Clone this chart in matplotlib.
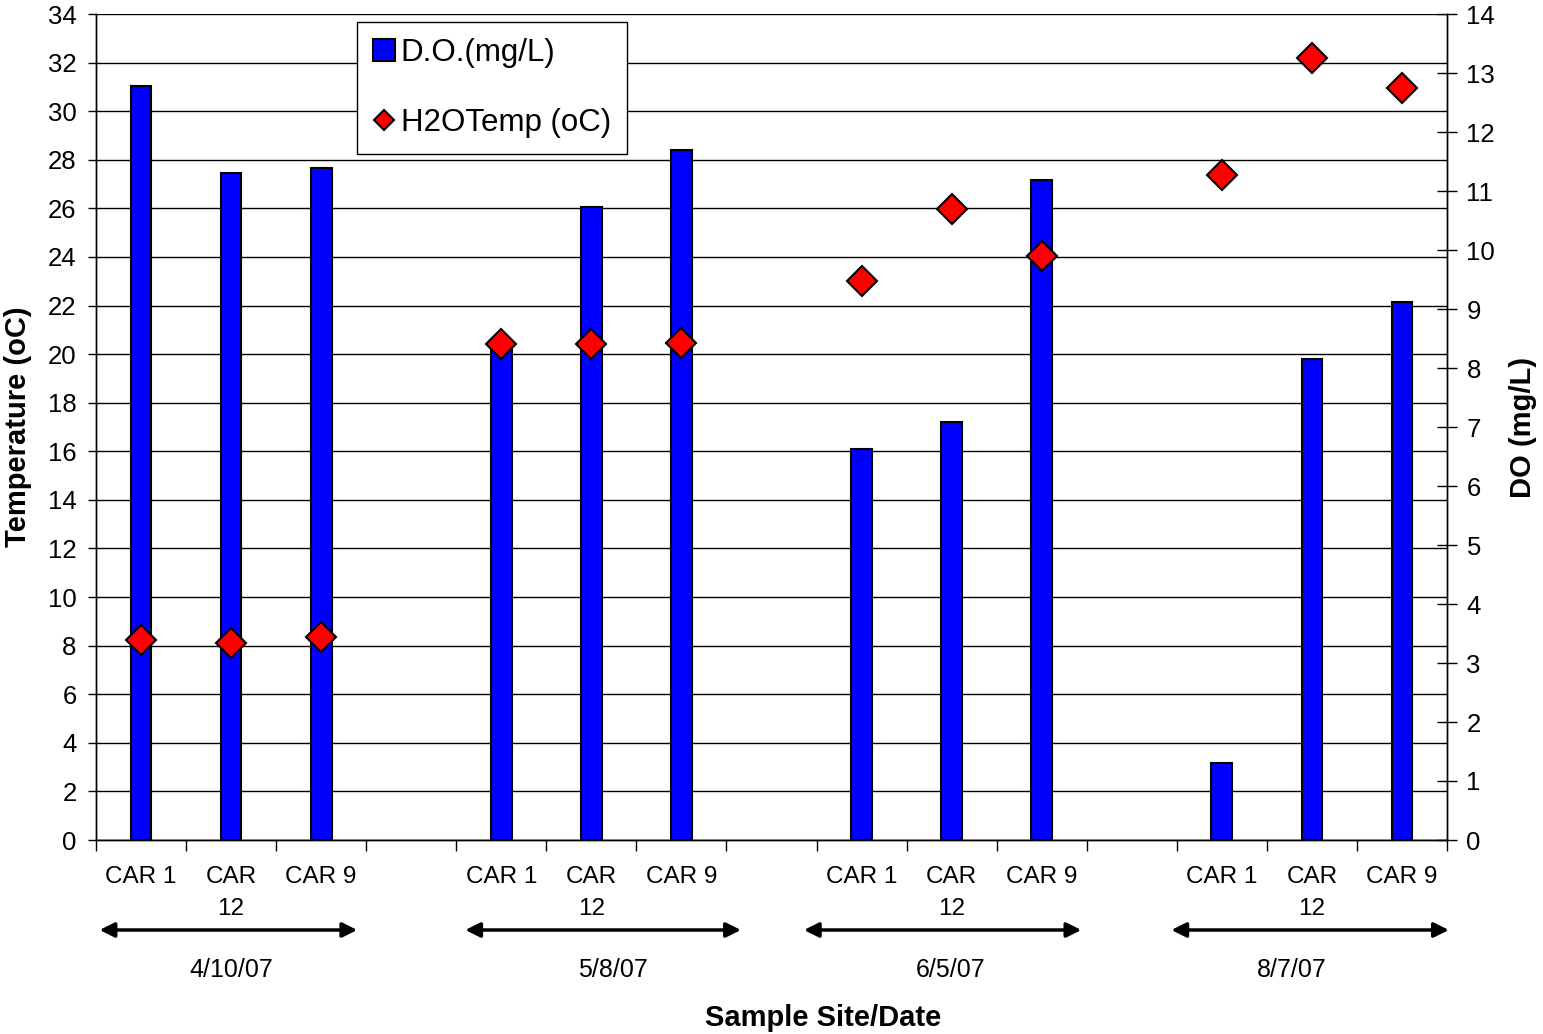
import matplotlib
matplotlib.use('Agg')
import matplotlib.pyplot as plt
import numpy as np
from matplotlib.lines import Line2D
from matplotlib.patches import Patch
import matplotlib.transforms as mtransforms

plt.rcParams['font.family'] = ['Liberation Sans', 'DejaVu Sans']

# ---------------- data ----------------
categories = ['CAR 1', 'CAR\n12', 'CAR 9', '',
              'CAR 1', 'CAR\n12', 'CAR 9', '',
              'CAR 1', 'CAR\n12', 'CAR 9', '',
              'CAR 1', 'CAR\n12', 'CAR 9']
do_values = [12.78, 11.31, 11.39, np.nan,
             8.45, 10.73, 11.70, np.nan,
             6.62, 7.09, 11.19, np.nan,
             1.31, 8.15, 9.12]
temp_values = [8.23, 8.10, 8.34, np.nan,
               20.41, 20.41, 20.47, np.nan,
               23.03, 25.96, 24.04, np.nan,
               27.38, 32.20, 30.94]
dates = ['4/10/07', '5/8/07', '6/5/07', '8/7/07']
temp_ticks = list(range(0, 35, 2))
do_ticks = list(range(0, 15, 1))

# ---------------- layout ----------------
arrow_spans = [(0.04, 2.90), (4.10, 7.16), (7.86, 10.94), (11.94, 15.02)]
date_pos = [1.5, 5.74, 9.49, 13.28]

W, H = 1543, 1034
fig = plt.figure(figsize=(W / 100, H / 100), dpi=100)
ax = fig.add_axes([96 / W, 1 - 840 / H, (1447 - 96) / W, (840 - 14) / H])
ax2 = ax.twinx()

x = np.arange(len(categories)) + 0.5

# bars (DO, right axis)
ax2.bar(x, do_values, width=0.23, color='#0000FF', edgecolor='black',
        linewidth=1.5, zorder=2)
# diamonds (temperature, left axis) drawn on top
ax2.plot(x, temp_values, linestyle='none', marker='D', markersize=15,
         markerfacecolor='#FF0000', markeredgecolor='black',
         markeredgewidth=1.5, transform=ax.transData, zorder=3, clip_on=False)

ax.set_xlim(0, len(categories))
ax.set_ylim(0, 34)
ax2.set_ylim(0, 14)

ax.set_yticks(temp_ticks)
ax2.set_yticks(do_ticks)
ax.yaxis.grid(True, color='black', linewidth=1)
ax.set_axisbelow(True)

ax.set_xticks(np.arange(0, len(categories) + 1))
ax.set_xticklabels([])
ax.set_xticks(x, minor=True)
ax.set_xticklabels(categories, minor=True)
ax.tick_params(axis='x', which='major', direction='out', length=8, width=1)
ax.tick_params(axis='x', which='minor', length=0, pad=19, labelsize=17.5)
for lab in ax.get_xticklabels(minor=True):
    lab.set_linespacing(1.55)
    lab.set_verticalalignment('top')

ax.tick_params(axis='y', direction='out', length=6, width=1, labelsize=18.5, pad=8)
ax2.tick_params(axis='y', direction='inout', length=14, width=1, labelsize=18.5, pad=7)

for a in (ax, ax2):
    for s in a.spines.values():
        s.set_color('black')
        s.set_linewidth(1)
ax.spines['top'].set_visible(False)
ax2.spines['top'].set_visible(False)

# arrows and dates below the axis
trans = mtransforms.blended_transform_factory(ax.transData, ax.transAxes)
y_arrow = (840 - 930) / 826
y_date = (840 - 970) / 826
for (x0, x1), d, xd in zip(arrow_spans, dates, date_pos):
    ax.annotate('', xy=(x1, y_arrow), xytext=(x0, y_arrow),
                xycoords=trans, textcoords=trans, annotation_clip=False,
                arrowprops=dict(arrowstyle='<|-|>', color='black', lw=2.5,
                                mutation_scale=22, shrinkA=0, shrinkB=0))
    ax.text(xd, y_date, d, transform=trans, ha='center', va='center',
            fontsize=18)

# axis labels
fig.text(823 / W, 1 - 1018 / H, 'Sample Site/Date', ha='center', va='center',
         fontsize=21, fontweight='bold')
fig.text(18 / W, 1 - 427 / H, 'Temperature (oC)', ha='center', va='center',
         rotation=90, fontsize=21, fontweight='bold')
fig.text(1523 / W, 1 - 427 / H, 'DO (mg/L)', ha='center', va='center',
         rotation=90, fontsize=21, fontweight='bold')

# legend
handles = [Patch(facecolor='#0000FF', edgecolor='black', linewidth=1.5),
           Line2D([], [], linestyle='none', marker='D', markersize=10,
                  markerfacecolor='#FF0000', markeredgecolor='black',
                  markeredgewidth=1.5)]
leg = ax2.legend(handles, ['D.O.(mg/L)', 'H2OTemp (oC)'], loc='upper left',
                 bbox_to_anchor=((357 - 96) / 1351, (840 - 22) / 826),
                 borderaxespad=0, fontsize=22.5, frameon=True, fancybox=False,
                 edgecolor='black', framealpha=1, handlelength=0.7,
                 handleheight=0.7, handletextpad=0.2, labelspacing=1.3,
                 borderpad=0.5)
leg.get_frame().set_linewidth(1)

fig.savefig('out.png', dpi=100)
